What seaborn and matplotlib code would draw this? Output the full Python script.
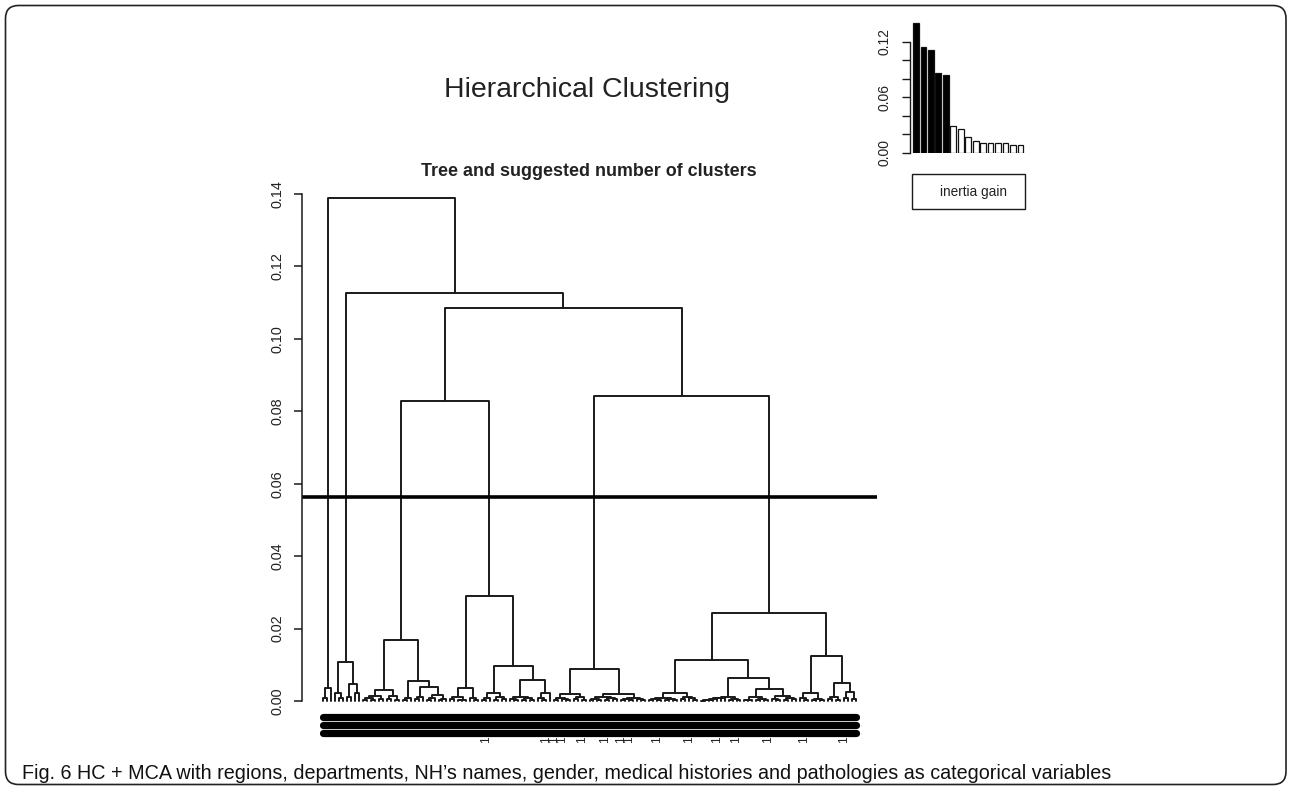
import matplotlib
matplotlib.use("Agg")
import numpy as np
import pandas as pd
import matplotlib.pyplot as plt
import seaborn as sns
from matplotlib import transforms, font_manager
from matplotlib.patches import FancyBboxPatch, Rectangle

# ---------------------------------------------------------------------------
# Tree data: a node is L (one individual) or [merge height, left, right]
# ---------------------------------------------------------------------------
L = 0

cluster_a = [0.0037, [0.0008, L, L], L]
cluster_b = [0.0109, [0.0023, L, [0.0008, L, L]],
                     [0.0047, [0.0012, L, L], [0.0023, L, L]]]
cluster_c1 = [0.0168,
              [0.0029, [0.0015, [0.0007, [0.0004, L, L], [0.0002, L, L]], [0.0006, L, L]],
                       [0.0013, [0.0005, L, L], [0.0003, L, L]]],
              [0.0055, [0.0009, [0.0004, L, L], L],
                       [0.0040, [0.0011, [0.0005, L, L], L],
                                [0.0016, [0.0008, [0.0003, L, L], L],
                                         [0.0006, [0.0002, L, L], L]]]]]
cluster_c2 = [0.0290,
              [0.0035, [0.0011, [0.0005, L, L], [0.0004, [0.0002, L, L], L]],
                       [0.0009, L, [0.0004, L, L]]],
              [0.0097, [0.0023, [0.0008, [0.0004, L, L], L],
                                [0.0011, [0.0003, L, L], [0.0005, L, L]]],
                       [0.0058, [0.0012, [0.0006, L, [0.0003, L, L]],
                                         [0.0007, [0.0002, L, L], [0.0004, L, L]]],
                                [0.0023, [0.0009, L, [0.0004, L, L]], L]]]]
cluster_d1 = [0.0088,
              [0.0019, [0.0008, [0.0004, L, L], [0.0006, L, [0.0003, L, L]]],
                       [0.0011, [0.0005, L, L], [0.0004, L, L]]],
              [0.0018, [0.0010, [0.0006, [0.0003, L, L], [0.0004, L, L]],
                                [0.0007, [0.0002, L, L], [0.0005, L, L]]],
                       [0.0009, [0.0006, [0.0003, L, L], [0.0004, L, L]],
                                [0.0005, L, [0.0003, L, L]]]]]
cluster_d2a = [0.0113,
               [0.0023, [0.0009, [0.0005, [0.0002, L, L], [0.0003, L, L]],
                                 [0.0006, [0.0003, L, L], [0.0004, L, L]]],
                        [0.0012, [0.0005, L, L], [0.0007, L, [0.0003, L, L]]]],
               [0.0063, [0.0012, [0.0008, [0.0007, [0.0005, [0.0004, [0.0003,
                                  [0.0001, L, L], L], L], L], L], L],
                                 [0.0006, [0.0003, L, L], [0.0002, L, L]]],
                        [0.0033, [0.0011, [0.0004, [0.0002, L, L], L],
                                          [0.0006, [0.0003, L, L], [0.0002, L, L]]],
                                 [0.0014, [0.0006, L, [0.0003, L, L]],
                                          [0.0009, [0.0004, L, L], [0.0005, L, L]]]]]]
cluster_d2b = [0.0124,
               [0.0021, [0.0008, L, [0.0004, L, L]],
                        [0.0006, [0.0002, L, L], [0.0003, L, L]]],
               [0.0049, [0.0010, [0.0005, L, L], [0.0003, L, L]],
                        [0.0024, [0.0009, L, L], [0.0006, L, L]]]]

tree = [0.1390, cluster_a,
        [0.1128, cluster_b,
         [0.1085,
          [0.0828, cluster_c1, cluster_c2],
          [0.0842, cluster_d1, [0.0242, cluster_d2a, cluster_d2b]]]]]

cut_height = 0.0563

# Leaves whose label runs past the label block
marked_leaves = [42, 57, 59, 61, 66, 72, 76, 78, 85, 93, 100, 105, 113, 122, 132]
marked_text = "1"

# Inertia gain of the successive partitions
inertia_gain = [0.1405, 0.1140, 0.1110, 0.0858, 0.0840, 0.0289, 0.0253, 0.0173,
                0.0126, 0.0110, 0.0108, 0.0107, 0.0105, 0.0086, 0.0084]
n_clusters = 6

main_title = "Hierarchical Clustering"
sub_title = "Tree and suggested number of clusters"
legend_label = "inertia gain"
caption = ("Fig. 6 HC + MCA with regions, departments, NH\u2019s names, gender, "
           "medical histories and pathologies as categorical variables")

main_ticks = [0.00, 0.02, 0.04, 0.06, 0.08, 0.10, 0.12, 0.14]
gain_ticks = [0.00, 0.02, 0.04, 0.06, 0.08, 0.10, 0.12]
gain_tick_labels = ["0.00", "", "", "0.06", "", "", "0.12"]

# ---------------------------------------------------------------------------
sns.set_theme(style="ticks")
plt.rcParams["font.family"] = ["Liberation Sans", "DejaVu Sans"]
ink = "#1a1a1a"

W, H = 1291, 789
fig = plt.figure(figsize=(W / 100, H / 100), dpi=100)
fig.patch.set_facecolor("white")


def px_rect(x0, y0, x1, y1):
    """Axes rectangle from a pixel box (top-left origin)."""
    return [x0 / W, 1 - y1 / H, (x1 - x0) / W, (y1 - y0) / H]


# --- dendrogram layout ---------------------------------------------------
segments = []
leaf_counter = [0]


def place(node):
    if not isinstance(node, list):
        leaf_counter[0] += 1
        return float(leaf_counter[0]), 0.0
    h, left, right = node
    xl, hl = place(left)
    xr, hr = place(right)
    segments.append([(xl, hl), (xl, h), (xr, h), (xr, hr)])
    return (xl + xr) / 2, h


place(tree)
n_leaves = leaf_counter[0]
rows = []
for k, seg in enumerate(segments):
    for j, (x, y) in enumerate(seg):
        rows.append({"merge": k, "step": j, "x": x, "height": y})
tree_df = pd.DataFrame(rows)

ylo, yhi = -0.0056, 0.1446
px_per_unit = (701 - 194) / 0.14
ax_top = 194 - (yhi - 0.14) * px_per_unit
ax_bot = 701 - ylo * px_per_unit
ax = fig.add_axes(px_rect(302, ax_top, 877, ax_bot))
ax.set_facecolor("none")

sns.lineplot(data=tree_df, x="x", y="height", units="merge", estimator=None,
             sort=False, color=ink, linewidth=1.4, legend=False, ax=ax)
ax.axhline(cut_height, color="black", linewidth=2.6)

pad = 0.04 * (n_leaves - 1)
ax.set_xlim(1 - pad, n_leaves + pad)
ax.set_ylim(ylo, yhi)
for s in ["top", "right", "bottom"]:
    ax.spines[s].set_visible(False)
ax.spines["left"].set_bounds(0, 0.14)
ax.spines["left"].set_color(ink)
ax.spines["left"].set_linewidth(1.1)
ax.set_xticks([])
ax.set_yticks(main_ticks)
ax.set_yticklabels([f"{t:.2f}" for t in main_ticks], rotation=90, va="center")
ax.tick_params(axis="y", length=5.8, width=1.1, color=ink, pad=7.0,
               labelsize=10.4, labelcolor="#222222")
ax.set_xlabel("")
ax.set_ylabel("")

# label block under the leaves
for dy in (15.6, 23.8, 32.2):
    tr = ax.transData + transforms.ScaledTranslation(0, -dy / 100, fig.dpi_scale_trans)
    ax.plot([1, n_leaves], [0, 0], color="black", linewidth=5.2,
            solid_capstyle="round", transform=tr, clip_on=False)
tr_lab = ax.transData + transforms.ScaledTranslation(0, -35.5 / 100, fig.dpi_scale_trans)
for leaf in marked_leaves:
    ax.text(leaf, 0, marked_text, rotation=90, ha="center", va="top",
            fontsize=8.5, color="#222222", transform=tr_lab, clip_on=False)

# --- inertia gain inset -------------------------------------------------
gain_df = pd.DataFrame({
    "rank": list(range(1, len(inertia_gain) + 1)),
    "gain": inertia_gain,
    "kept": [i < n_clusters - 1 for i in range(len(inertia_gain))],
})
g_lo, g_hi = 0.0, 0.145
g_px = (152.7 - 41.7) / 0.12
axi = fig.add_axes(px_rect(910, 152.7 - g_hi * g_px, 1026.4, 152.7))
axi.set_facecolor("none")
sns.barplot(data=gain_df, x="rank", y="gain", hue="kept",
            palette={True: "black", False: "white"}, edgecolor="#111111",
            linewidth=0.9, width=0.78, dodge=False, legend=False, ax=axi)
axi.set_xlim(-0.8, len(inertia_gain) - 1 + 0.8)
axi.set_ylim(g_lo, g_hi)
for s in ["top", "right", "bottom"]:
    axi.spines[s].set_visible(False)
axi.spines["left"].set_bounds(0, 0.12)
axi.spines["left"].set_color(ink)
axi.spines["left"].set_linewidth(1.0)
axi.set_xticks([])
axi.set_yticks(gain_ticks)
axi.set_yticklabels(gain_tick_labels, rotation=90, va="center")
axi.tick_params(axis="y", length=6, width=1.0, color=ink, pad=7.5,
               labelsize=10.0, labelcolor="#222222")
axi.set_xlabel("")
axi.set_ylabel("")

# legend box
fig.add_artist(Rectangle((911.7, H - 208.5), 1025 - 911.7, 208.5 - 173.5,
                         transform=transforms.IdentityTransform(),
                         facecolor="white", edgecolor=ink, linewidth=1.0))
fig.text(973 / W, 1 - 192 / H, legend_label, ha="center", va="center",
         fontsize=9.8, color="#222222")

# --- titles ---------------------------------------------------------------
fig.text(587 / W, 1 - 97 / H, main_title, ha="center", va="baseline",
         fontsize=20.5, color="#222222")
fig.text(588.5 / W, 1 - 176 / H, sub_title, ha="center", va="baseline",
         fontsize=12.9, fontweight="bold", color="#222222")


# --- caption ----------------------------------------------------------------
def has_font(name):
    try:
        font_manager.findfont(font_manager.FontProperties(family=name),
                              fallback_to_default=False)
        return True
    except Exception:
        return False


cap_family = ["Liberation Sans Narrow", "Liberation Sans", "DejaVu Sans"]
if not has_font("Liberation Sans Narrow"):
    cap_family = ["Liberation Sans", "DejaVu Sans"]
cap = fig.text(22 / W, 1 - 779 / H, caption, ha="left", va="baseline",
               fontsize=16, family=cap_family, color="#111111")
renderer = fig.canvas.get_renderer()
width_now = cap.get_window_extent(renderer).width
cap.set_fontsize(16 * (1108 - 22) / width_now)

# --- frame ----------------------------------------------------------------
frame = FancyBboxPatch((5.5, H - 784.5), 1280.5, 779,
                       boxstyle="round,pad=0,rounding_size=13",
                       transform=transforms.IdentityTransform(),
                       facecolor="none", edgecolor="#222222", linewidth=1.2)
fig.add_artist(frame)

fig.savefig("out.png", dpi=100, facecolor="white")
